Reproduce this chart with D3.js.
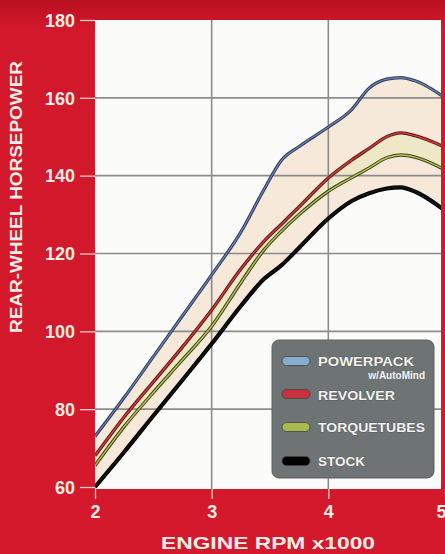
<!DOCTYPE html>
<html><head><meta charset="utf-8">
<script src="https://cdn.jsdelivr.net/npm/d3@7"></script>
<style>html,body{margin:0;padding:0;background:#d0172a;}svg{display:block;}</style>
</head><body>
<svg id="c" width="445" height="554"></svg>
<script>
const rpm        = [2.0, 2.25, 2.5, 2.75, 3.0, 3.25, 3.45, 3.6, 3.75, 4.0, 4.2, 4.35, 4.5, 4.62, 4.75, 5.0];
const powerpack  = [73, 83, 93.5, 104, 114.5, 125.5, 136.5, 144, 147.5, 152.5, 157, 162.5, 164.8, 165.2, 164.3, 160];
const revolver   = [68, 78, 87, 96, 105.5, 116, 123.2, 127.6, 132, 139.4, 144, 147, 150, 151, 150.2, 147.3];
const torquetubes= [65.5, 75.5, 84.3, 92.7, 101.3, 112.5, 121, 125.8, 130, 136, 139.5, 142, 144.6, 145.3, 144.7, 141.5];
const stock      = [60, 69, 78.3, 87.5, 96.8, 106.5, 113.5, 117, 121.5, 129, 133.5, 135.5, 136.7, 137, 135.8, 131];
const seriesNames = ["POWERPACK", "REVOLVER", "TORQUETUBES", "STOCK"];
const yTicks = [60, 80, 100, 120, 140, 160, 180];
const xTicks = [2, 3, 4, 5];
const yTitle = "REAR-WHEEL HORSEPOWER";
const xTitle = "ENGINE RPM x1000";
const subLabel = "w/AutoMind";

const svg = d3.select("#c");
const W = 445, H = 554;
const x = d3.scaleLinear().domain([2, 5]).range([95, 445]);
const y = d3.scaleLinear().domain([60, 180]).range([487, 20]);
const plotL = 95, plotR = 441, plotT = 20, plotB = 489;

const defs = svg.append("defs");
const bg = defs.append("linearGradient").attr("id","bg").attr("x1",0).attr("y1",0).attr("x2",0).attr("y2",1);
bg.append("stop").attr("offset","0").attr("stop-color","#b8101f");
bg.append("stop").attr("offset","0.05").attr("stop-color","#d2182b");
bg.append("stop").attr("offset","1").attr("stop-color","#d3192b");
svg.append("rect").attr("width",W).attr("height",H).attr("fill","url(#bg)");

defs.append("clipPath").attr("id","clip").append("rect")
  .attr("x",plotL).attr("y",plotT).attr("width",plotR-plotL).attr("height",plotB-plotT);

svg.append("rect").attr("x",plotL).attr("y",plotT).attr("width",plotR-plotL).attr("height",plotB-plotT)
  .attr("fill","#fbfbf9");

const g = svg.append("g").attr("clip-path","url(#clip)");

const rows = rpm.map((r,i)=>({r, pp:powerpack[i], rv:revolver[i], tt:torquetubes[i], st:stock[i]}));
const curve = d3.curveMonotoneX;

g.append("path").datum(rows).attr("fill","#f6e9da")
  .attr("d", d3.area().curve(curve).x(d=>x(d.r)).y0(d=>y(d.st)).y1(d=>y(d.pp)));
g.append("path").datum(rows).attr("fill","#efe8c6")
  .attr("d", d3.area().curve(curve).x(d=>x(d.r)).y0(d=>y(d.tt)).y1(d=>y(d.rv)));

// grid
g.selectAll(".gy").data(yTicks.filter(v=>v>60 && v<180)).enter().append("line")
  .attr("x1",plotL).attr("x2",plotR).attr("y1",d=>y(d)).attr("y2",d=>y(d))
  .attr("stroke","#8c8c8c").attr("stroke-width",1.6);
g.selectAll(".gx").data(xTicks.filter(v=>v>2 && v<5)).enter().append("line")
  .attr("y1",plotT).attr("y2",plotB).attr("x1",d=>x(d)).attr("x2",d=>x(d))
  .attr("stroke","#8c8c8c").attr("stroke-width",1.6);

const styles = [
  {key:"pp", outer:"#2f3a5c", inner:"#6f86b0", ow:3.2, iw:1.2},
  {key:"rv", outer:"#5e1c1c", inner:"#d23a3a", ow:3.4, iw:1.4},
  {key:"tt", outer:"#3e4618", inner:"#b5c05a", ow:3.4, iw:1.4},
  {key:"st", outer:"#000000", inner:"#111111", ow:4.2, iw:2}
];
styles.forEach(s=>{
  const ln = d3.line().curve(curve).x(d=>x(d.r)).y(d=>y(d[s.key]));
  g.append("path").datum(rows).attr("fill","none").attr("stroke",s.outer).attr("stroke-width",s.ow).attr("d",ln);
  g.append("path").datum(rows).attr("fill","none").attr("stroke",s.inner).attr("stroke-width",s.iw).attr("d",ln);
});

// y axis ticks & labels
const yAxis = d3.axisLeft(y).tickValues(yTicks).tickSize(15).tickPadding(5);
const ya = svg.append("g").attr("transform",`translate(${plotL},0)`).call(yAxis);
ya.select(".domain").remove();
ya.selectAll(".tick line").attr("stroke","#f3c9c9").attr("stroke-width",1.3);
ya.selectAll(".tick text").attr("fill","#f6ece6").attr("font-family","'Liberation Sans', Arial, sans-serif")
  .attr("font-weight","bold").attr("font-size",18).attr("dy","0.35em");

const xAxis = d3.axisBottom(x).tickValues(xTicks).tickSize(10).tickPadding(6).tickFormat(d3.format("d"));
const xa = svg.append("g").attr("transform",`translate(0,${plotB})`).call(xAxis);
xa.select(".domain").remove();
xa.selectAll(".tick line").attr("stroke","#f3c9c9").attr("stroke-width",1.3);
xa.selectAll(".tick text").attr("fill","#f6ece6").attr("font-family","'Liberation Sans', Arial, sans-serif")
  .attr("font-weight","bold").attr("font-size",18)
  .filter(d=>d===5).attr("text-anchor","end").attr("dx","0.05em");

svg.append("text").attr("transform","translate(22,197) rotate(-90)").attr("text-anchor","middle")
  .attr("fill","#f6ece6").attr("font-family","'Liberation Sans', Arial, sans-serif").attr("font-weight","bold")
  .attr("font-size",16).attr("textLength",272).attr("lengthAdjust","spacingAndGlyphs").text(yTitle);
svg.append("text").attr("x",268).attr("y",549).attr("text-anchor","middle")
  .attr("fill","#f6ece6").attr("font-family","'Liberation Sans', Arial, sans-serif").attr("font-weight","bold")
  .attr("font-size",17).attr("textLength",214).attr("lengthAdjust","spacingAndGlyphs").text(xTitle);

// legend
const lg = svg.append("g");
lg.append("rect").attr("x",272).attr("y",340).attr("width",162).attr("height",138).attr("rx",7)
  .attr("fill","#6e7474").attr("stroke","#5a6060").attr("stroke-width",1);
const swatchCols = ["#86acd0","#c8323c","#a9bb4e","#000000"];
const swatchY = [361, 394, 427, 461];
const labelY = [366, 400, 432, 466];
const labelLen = [96, 77, 107, 47];
seriesNames.forEach((n,i)=>{
  lg.append("rect").attr("x",282).attr("y",swatchY[i]-4.5).attr("width",28).attr("height",9).attr("rx",4.5)
    .attr("fill",swatchCols[i]).attr("stroke","#3c4242").attr("stroke-width",0.8);
  lg.append("text").attr("x",318).attr("y",labelY[i]).attr("fill","#f2f2f0")
    .attr("font-family","'Liberation Sans Narrow','Liberation Sans', Arial, sans-serif").attr("font-weight","bold")
    .attr("font-size",12.5).attr("textLength",labelLen[i]).attr("lengthAdjust","spacingAndGlyphs")
    .attr("stroke","#3a3f3f").attr("stroke-width",0.4).attr("paint-order","stroke").text(n);
});
lg.append("text").attr("x",425).attr("y",379).attr("text-anchor","end").attr("fill","#f2f2f0")
  .attr("font-family","'Liberation Sans Narrow','Liberation Sans', Arial, sans-serif").attr("font-weight","bold")
  .attr("font-size",10).text(subLabel);
</script>
</body></html>
